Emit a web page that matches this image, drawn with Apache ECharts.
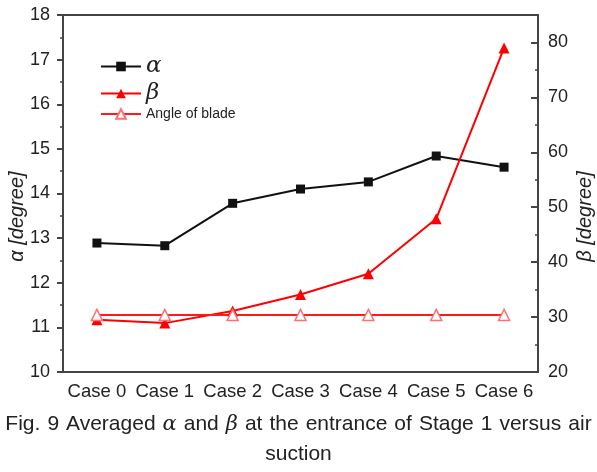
<!DOCTYPE html>
<html><head><meta charset="utf-8">
<script src="https://cdn.jsdelivr.net/npm/echarts@6/dist/echarts.min.js"></script>
<style>html,body{margin:0;padding:0;background:#fff}#c{width:597px;height:472px}</style>
</head><body><div id="c"></div>
<script>
const categories = ['Case 0','Case 1','Case 2','Case 3','Case 4','Case 5','Case 6'];
const alphaValues = [12.89, 12.83, 13.78, 14.10, 14.26, 14.84, 14.59];
const betaValues = [29.5, 28.9, 31.1, 34.1, 37.9, 47.9, 79.0];
const bladeValues = [30.4, 30.4, 30.4, 30.4, 30.4, 30.4, 30.4];
const captionWords = ['Fig.','9','Averaged','α','and','β','at','the','entrance','of','Stage','1','versus','air'];

const axisColor = '#444';
const labelFont = {fontFamily:'Liberation Sans, Arial, sans-serif', fontSize:18, color:'#222'};
const captionText = captionWords.map(w => (w === 'α' || w === 'β') ? '{g|' + w + '}' : '{n|' + w + '}').join('{s| }');
const chart = echarts.init(document.getElementById('c'));
chart.setOption({
  animation:false,
  backgroundColor:'#fff',
  grid:{left:63,right:59,top:15,bottom:100,containLabel:false,outerBoundsMode:'none'},
  legend:{
    orient:'vertical', left:95, top:48, itemWidth:40, itemHeight:12, itemGap:0,
    data:[
      {name:'α', textStyle:{fontFamily:'DejaVu Serif, serif', fontStyle:'italic', fontSize:23, lineHeight:27, color:'#222'}},
      {name:'β', textStyle:{fontFamily:'DejaVu Serif, serif', fontStyle:'italic', fontSize:23, lineHeight:27, color:'#222'}},
      {name:'Angle of blade', textStyle:{fontFamily:'Liberation Sans, Arial, sans-serif', fontSize:14, lineHeight:13, color:'#222'}}
    ]
  },
  xAxis:[
    {type:'category', data:categories, position:'bottom',
     axisLine:{lineStyle:{color:axisColor,width:2}},
     axisTick:{alignWithLabel:true, inside:false, length:6, lineStyle:{color:axisColor,width:2}},
     axisLabel:Object.assign({interval:0, margin:10, hideOverlap:false}, labelFont, {fontSize:18.5})},
    {type:'category', data:categories, position:'top',
     axisLine:{lineStyle:{color:axisColor,width:2}},
     axisTick:{alignWithLabel:true, inside:true, length:6, lineStyle:{color:axisColor,width:2}},
     axisLabel:{show:false}}
  ],
  yAxis:[
    {type:'value', min:10, max:18, interval:1, position:'left',
     name:'α [degree]', nameLocation:'middle', nameGap:36, nameRotate:90, nameMoveOverlap:false,
     nameTextStyle:{fontFamily:'Liberation Sans, Arial, sans-serif', fontStyle:'italic', fontSize:20, color:'#222', padding:[0,46,0,0]},
     axisLine:{show:true,lineStyle:{color:axisColor,width:2}},
     axisTick:{show:true, inside:false, length:6, lineStyle:{color:axisColor,width:2}},
     minorTick:{show:true, splitNumber:2, length:3, lineStyle:{color:axisColor,width:1.5}},
     splitLine:{show:false},
     axisLabel:Object.assign({margin:13}, labelFont)},
    {type:'value', min:20, max:85, interval:10, position:'right',
     name:'β [degree]', nameLocation:'middle', nameGap:37, nameRotate:90, nameMoveOverlap:false,
     nameTextStyle:{fontFamily:'Liberation Sans, Arial, sans-serif', fontStyle:'italic', fontSize:20, color:'#222', padding:[0,46,0,0]},
     axisLine:{show:true,lineStyle:{color:axisColor,width:2}},
     axisTick:{show:true, inside:true, length:7, lineStyle:{color:axisColor,width:2}},
     splitLine:{show:false},
     axisLabel:Object.assign({margin:10, showMaxLabel:false}, labelFont)},
    {type:'value', min:20, max:85, interval:5, position:'right',
     axisLine:{show:false},
     axisTick:{show:true, inside:true, length:3, lineStyle:{color:axisColor,width:1.5}},
     splitLine:{show:false},
     axisLabel:{show:false}}
  ],
  series:[
    {name:'α', type:'line', yAxisIndex:0, data:alphaValues, symbol:'rect', symbolSize:9,
     lineStyle:{color:'#111',width:2}, itemStyle:{color:'#111'}},
    {name:'β', type:'line', yAxisIndex:1, data:betaValues, symbol:'triangle', symbolSize:11,
     lineStyle:{color:'#ff0000',width:2}, itemStyle:{color:'#ff0000'}},
    {name:'Angle of blade', type:'line', yAxisIndex:1, data:bladeValues, symbol:'triangle', symbolSize:11,
     lineStyle:{color:'#ff1a1a',width:2}, itemStyle:{color:'#fff', borderColor:'#ff7070', borderWidth:1.5}}
  ],
  graphic:[
    {type:'text', left:'center', top:414, style:{
      text:captionText,
      rich:{
        n:{fontFamily:'Liberation Sans, Arial, sans-serif', fontSize:21, fill:'#222'},
        g:{fontFamily:'DejaVu Serif, serif', fontStyle:'italic', fontSize:21, fill:'#222'},
        s:{fontFamily:'Liberation Sans, Arial, sans-serif', fontSize:21, width:7}
      }}},
    {type:'text', left:'center', top:444, style:{
      text:'suction', fontFamily:'Liberation Sans, Arial, sans-serif', fontSize:21, fill:'#222'}}
  ]
});
</script></body></html>
